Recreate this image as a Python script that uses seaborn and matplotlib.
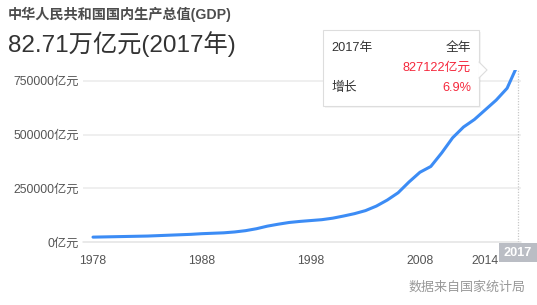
import matplotlib
matplotlib.use("Agg")
import matplotlib.pyplot as plt
from matplotlib.patches import Rectangle, Polygon
import seaborn as sns
import pandas as pd

# ---- data (亿元) ----
years = list(range(1978, 2018))
gdp = [24000, 25000, 26000, 27000, 28000, 29000, 31000, 33000, 35000, 37000,
       40000, 42000, 44000, 48000, 54000, 63000, 75000, 84000, 92000, 97000,
       101000, 105000, 112000, 122000, 133000, 147000, 168000, 196000, 230000, 280000,
       325000, 352000, 415000, 485000, 535000, 570000, 615000, 660000, 715000, 827122]
xtick_years = [1978, 1988, 1998, 2008, 2014]
ytick_vals = [0, 250000, 500000, 750000]
ytick_labels = ["0亿元", "250000亿元", "500000亿元", "750000亿元"]
title = "中华人民共和国国内生产总值(GDP)"
headline = "82.71万亿元(2017年)"
tip_year = "2017年"
tip_period = "全年"
tip_value = "827122亿元"
tip_growth_label = "增长"
tip_growth = "6.9%"
highlight_year = 2017
source = "数据来自国家统计局"

df = pd.DataFrame({"year": years, "gdp": gdp})

sns.set_theme(style="white")
plt.rcParams["font.family"] = ["Liberation Sans", "Noto Sans CJK SC", "DejaVu Sans"]

W, H = 537, 305
fig = plt.figure(figsize=(W / 100, H / 100), dpi=100)

# plot area in pixel terms
left_px, right_px, top_px, bottom_px = 83, 521, 70, 242.3
ax = fig.add_axes([left_px / W, 1 - bottom_px / H, (right_px - left_px) / W, (bottom_px - top_px) / H])

line_color = "#3c8cf5"
sns.lineplot(data=df, x="year", y="gdp", ax=ax, color=line_color, linewidth=2.2, zorder=3)

px_per_year = (518 - 93) / 39
ax.set_xlim(1978 - (93 - left_px) / px_per_year, 2017 + (right_px - 518) / px_per_year)
val_per_px = 750000 / (242.3 - 80.7)
ax.set_ylim(0, (bottom_px - top_px) * val_per_px)

for v in ytick_vals[1:]:
    ax.axhline(v, color="#ebebeb", linewidth=1.1, zorder=1)
ax.axhline(0, color="#e3e3e3", linewidth=1.1, zorder=1, clip_on=False)

ax.axvline(highlight_year, color="#c8c8c8", linewidth=0.9, linestyle=(0, (1, 1.2)), zorder=2)

for s in ax.spines.values():
    s.set_visible(False)

ax.set_xticks(xtick_years)
ax.set_xticklabels([str(y) for y in xtick_years])
ax.set_yticks(ytick_vals)
ax.set_yticklabels(ytick_labels)
ax.tick_params(axis="x", length=0, pad=9, labelsize=8.8, colors="#555555")
ax.tick_params(axis="y", length=0, pad=3, labelsize=8.8, colors="#555555")
ax.set_xlabel("")
ax.set_ylabel("")
ax.grid(False)

# overlay axes in pixel coordinates for annotations
ov = fig.add_axes([0, 0, 1, 1], zorder=10)
ov.set_xlim(0, W)
ov.set_ylim(H, 0)
ov.axis("off")
ov.patch.set_alpha(0)

ov.text(8, 14, title, fontsize=10.2, fontweight="bold", color="#4d4d4d", va="center", ha="left")
ov.text(8, 44, headline, fontsize=17.5, color="#333333", va="center", ha="left")

# tooltip
ov.add_patch(Rectangle((325, 32), 156, 76, facecolor="#000000", alpha=0.04, edgecolor="none"))
ov.add_patch(Rectangle((323, 30), 156, 76, facecolor="white", edgecolor="#dddddd", linewidth=0.8))
ov.add_patch(Polygon([(478.6, 62), (487, 70), (478.6, 78)], closed=True, facecolor="white",
                     edgecolor="none"))
ov.plot([479, 487, 479], [62, 70, 78], color="#dddddd", linewidth=0.8)
tc = "#333333"
red = "#f5283c"
fs = 9.2
ov.text(331, 48, tip_year, fontsize=fs, color=tc, va="center", ha="left")
ov.text(471, 48, tip_period, fontsize=fs, color=tc, va="center", ha="right")
ov.text(471, 68, tip_value, fontsize=fs, color=red, va="center", ha="right")
ov.text(331, 88, tip_growth_label, fontsize=fs, color=tc, va="center", ha="left")
ov.text(471, 88, tip_growth, fontsize=fs, color=red, va="center", ha="right")

# highlighted x label
ov.add_patch(Rectangle((499, 243), 38, 19, facecolor="#babdc4", edgecolor="none"))
ov.text(518, 253, str(highlight_year), fontsize=9.2, fontweight="bold", color="white",
        va="center", ha="center")

ov.text(526, 287, source, fontsize=9.4, color="#999999", va="center", ha="right")

fig.savefig("out.png", dpi=100, facecolor="white")
